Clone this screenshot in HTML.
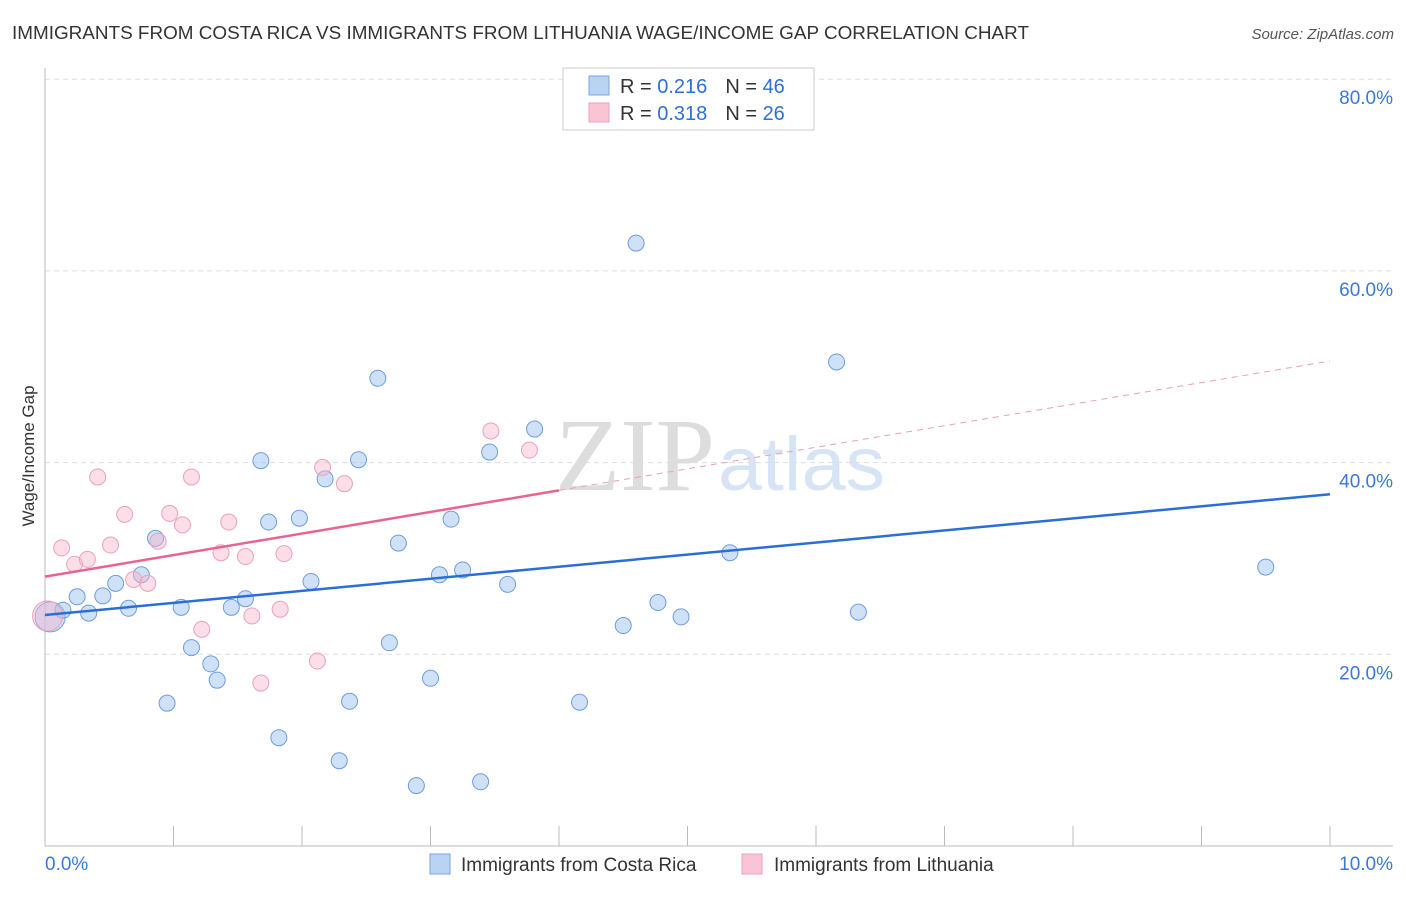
<!DOCTYPE html>
<html><head><meta charset="utf-8"><style>
body{margin:0;background:#fff;font-family:"Liberation Sans",sans-serif}
</style></head><body>
<svg id="c" width="1406" height="892" xmlns="http://www.w3.org/2000/svg" style="font-family:'Liberation Sans',sans-serif">
<text x="12" y="39" font-size="18" fill="#333" textLength="1017" lengthAdjust="spacingAndGlyphs">IMMIGRANTS FROM COSTA RICA VS IMMIGRANTS FROM LITHUANIA WAGE/INCOME GAP CORRELATION CHART</text>
<text x="1394" y="39" font-size="15" fill="#555" font-style="italic" text-anchor="end">Source: ZipAtlas.com</text>
<text x="555" y="490" font-size="104" fill="#ddd" textLength="160" lengthAdjust="spacingAndGlyphs" font-family="Liberation Serif">ZIP</text>
<text x="718" y="490" font-size="76" fill="#d6e4f5" textLength="167" lengthAdjust="spacingAndGlyphs">atlas</text>
<text transform="translate(34,456) rotate(-90)" font-size="17" fill="#333" text-anchor="middle">Wage/Income Gap</text>
<g id="grid"></g><g id="marks"></g>
<g>
<rect x="563" y="68" width="251" height="62" fill="#fff" stroke="#ccc"/>
<rect x="589" y="76" width="20" height="19" fill="#b9d3f5" stroke="#7aa5e0"/>
<rect x="589" y="103" width="20" height="19" fill="#f9c5d5" stroke="#eea0b9"/>
<text x="620" y="93" font-size="20" fill="#333">R = <tspan fill="#2f6fd6">0.216</tspan><tspan dx="18">N = </tspan><tspan fill="#2f6fd6">46</tspan></text>
<text x="620" y="120" font-size="20" fill="#333">R = <tspan fill="#2f6fd6">0.318</tspan><tspan dx="18">N = </tspan><tspan fill="#2f6fd6">26</tspan></text>
</g>
<g>
<rect x="430" y="854" width="20" height="20" fill="#b9d3f5" stroke="#7aa5e0"/>
<text x="461" y="871" font-size="19" fill="#333">Immigrants from Costa Rica</text>
<rect x="742" y="854" width="20" height="20" fill="#f9c5d5" stroke="#eea0b9"/>
<text x="774" y="871" font-size="19" fill="#333">Immigrants from Lithuania</text>
</g>
</svg>
<script>
const blueX=[0.04,0.14,0.25,0.34,0.45,0.55,0.65,0.75,0.86,0.95,1.06,1.14,1.29,1.34,1.45,1.56,1.68,1.74,1.82,1.98,2.07,2.18,2.29,2.37,2.44,2.59,2.68,2.75,2.89,3.00,3.07,3.16,3.25,3.39,3.46,3.60,3.81,4.16,4.50,4.60,4.77,4.95,5.33,6.16,6.33,9.50];
const blueY=[23.9,24.6,26.0,24.3,26.1,27.4,24.8,28.3,32.1,14.9,24.9,20.7,19.0,17.3,24.9,25.8,40.2,33.8,11.3,34.2,27.6,38.3,8.9,15.1,40.3,48.8,21.2,31.6,6.3,17.5,28.3,34.1,28.8,6.7,41.1,27.3,43.5,15.0,23.0,62.9,25.4,23.9,30.6,50.5,24.4,29.1];
const pinkX=[0.02,0.13,0.23,0.33,0.41,0.51,0.62,0.69,0.80,0.88,0.97,1.07,1.14,1.22,1.37,1.43,1.56,1.61,1.68,1.83,1.86,2.12,2.16,2.33,3.47,3.77];
const pinkY=[24.0,31.1,29.4,29.9,38.5,31.4,34.6,27.8,27.4,31.8,34.7,33.5,38.5,22.6,30.6,33.8,30.2,24.0,17.0,24.7,30.5,19.3,39.5,37.8,43.3,41.3];
const yTicks=[20,40,60,80];
const blueTrend=[24.1,36.7];
const pinkTrend=[28.1,50.6];
const pinkSolidEnd=4.0;
const NS="http://www.w3.org/2000/svg";
const sx=v=>45+v*128.5, sy=v=>846-v*9.585;
function mk(t,a,p){const e=document.createElementNS(NS,t);for(const k in a)e.setAttribute(k,a[k]);p.appendChild(e);return e;}
const grid=document.getElementById('grid'), marks=document.getElementById('marks');
for(const t of yTicks){
 const l=mk('line',{x1:45,x2:1393,y1:sy(t),y2:sy(t),stroke:'#ddd','stroke-dasharray':'5,4'},grid);
 
 
 const tx=mk('text',{x:1393,y:sy(t)+25,'font-size':19,fill:'#3b78d8','text-anchor':'end'},grid);
 tx.textContent=t.toFixed(1)+'%';
 
 
}
const ax=mk('line',{x1:45,x2:45,y1:68,y2:846,stroke:'#bbb'},grid);


const xa=mk('line',{x1:45,x2:1393,y1:846,y2:846,stroke:'#bbb'},grid);


for(let i=1;i<=10;i++){
 const tk=mk('line',{x1:sx(i),x2:sx(i),y1:826,y2:846,stroke:'#bbb'},grid);
 
 
}
const xl=mk('text',{x:45,y:870,'font-size':19,fill:'#3b78d8'},grid);xl.textContent='0.0%';


const xr=mk('text',{x:1393,y:870,'font-size':19,fill:'#3b78d8','text-anchor':'end'},grid);xr.textContent='10.0%';


function dots(X,Y,fill,stroke,name){
 X.forEach((x,i)=>{const c=mk('circle',{cx:sx(x),cy:sy(Y[i]),r:i===0?15:8,fill:fill,stroke:stroke,'stroke-width':1},marks);
 
 });
}
dots(blueX,blueY,'rgba(160,195,240,0.5)','#6d9de0','costa-rica-point');
dots(pinkX,pinkY,'rgba(246,182,202,0.45)','#eca0ba','lithuania-point');
const bl=mk('line',{x1:sx(0),y1:sy(blueTrend[0]),x2:sx(10),y2:sy(blueTrend[1]),stroke:'#2a6fd6','stroke-width':2.5},marks);


const pAt=x=>pinkTrend[0]+(pinkTrend[1]-pinkTrend[0])*x/10;
const pl=mk('line',{x1:sx(0),y1:sy(pAt(0)),x2:sx(pinkSolidEnd),y2:sy(pAt(pinkSolidEnd)),stroke:'#e8648e','stroke-width':2.5},marks);


const pd=mk('line',{x1:sx(pinkSolidEnd),y1:sy(pAt(pinkSolidEnd)),x2:sx(10),y2:sy(pAt(10)),stroke:'#e8a0b8','stroke-width':1,'stroke-dasharray':'6,5'},marks);


</script>
</body></html>
